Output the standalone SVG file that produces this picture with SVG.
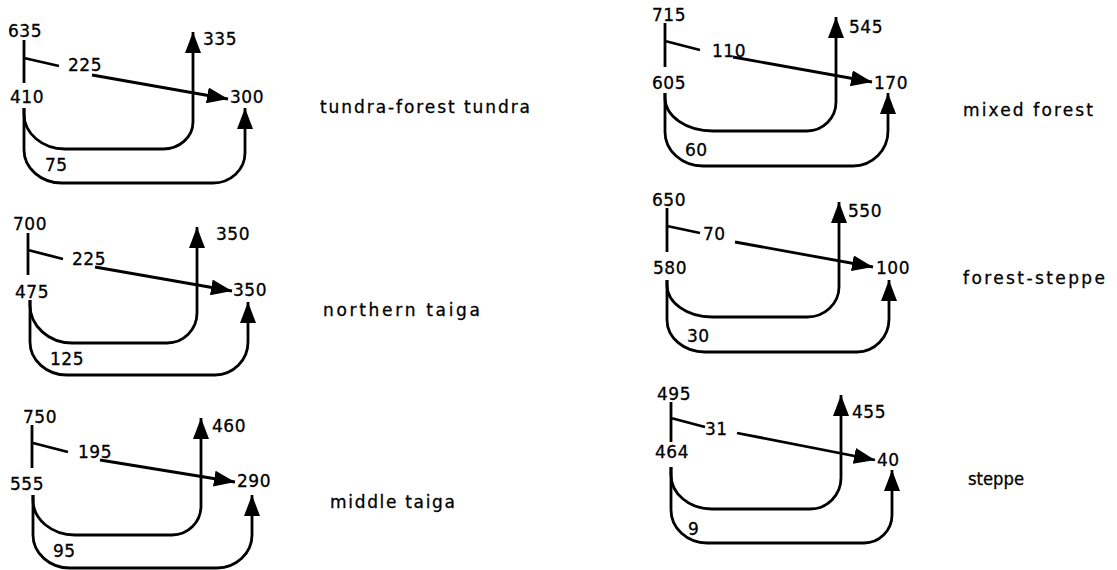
<svg xmlns="http://www.w3.org/2000/svg" width="1117" height="570" viewBox="0 0 1117 570">
<style>
.n{font-family:"DejaVu Sans","Liberation Sans",sans-serif;font-size:17px;fill:#000;letter-spacing:0.5px;stroke:#000;stroke-width:0.3}
.l{font-family:"DejaVu Sans","Liberation Sans",sans-serif;font-size:17px;fill:#000;stroke:#000;stroke-width:0.3}
.ln{fill:none;stroke:#000;stroke-width:2.8;stroke-linejoin:round}
.a{marker-end:url(#ah)}
</style>
<defs>
<marker id="ah" markerUnits="userSpaceOnUse" markerWidth="22" markerHeight="16" refX="21" refY="8" orient="auto">
<path d="M0,0 L21,8 L0,16 z" fill="#000"/>
</marker>
</defs>
<rect width="1117" height="570" fill="#fff"/>
<g id="connectors">
<path class="ln" d="M24,40 L24,83 M24,58 L59,66"/>
<path class="ln a" d="M92,75 L228,99"/>
<path class="ln a" d="M24,108 L24,114 A41,35 0 0 0 65,149 L163,149 A30,27 0 0 0 193,122 L193,32"/>
<path class="ln a" d="M24,108 L24,150 A38,33 0 0 0 62,183 L213,183 A32,30 0 0 0 245,153 L245,108"/>
<path class="ln" d="M28,233 L28,275 M28,250 L63,259"/>
<path class="ln a" d="M95,267 L232,291"/>
<path class="ln a" d="M30,300 L30,305 A42,38 0 0 0 72,343 L167,343 A30,30 0 0 0 197,313 L197,227"/>
<path class="ln a" d="M30,300 L30,342 A37,33 0 0 0 67,375 L215,375 A33,33 0 0 0 248,342 L248,302"/>
<path class="ln" d="M32,425 L32,468 M33,443 L68,452"/>
<path class="ln a" d="M100,460 L235,482"/>
<path class="ln a" d="M33,495 L33,500 A42,35 0 0 0 75,535 L172,535 A29,29 0 0 0 201,506 L201,418"/>
<path class="ln a" d="M33,495 L33,535 A37,33 0 0 0 70,568 L217,568 A35,33 0 0 0 252,535 L252,495"/>
<path class="ln" d="M665,23 L665,67 M665,41 L700,50"/>
<path class="ln a" d="M733,57 L872,82"/>
<path class="ln a" d="M665,93 L665,98 A48,33 0 0 0 713,131 L807,131 A29,29 0 0 0 836,102 L836,17"/>
<path class="ln a" d="M665,93 L665,132 A38,34 0 0 0 703,166 L853,166 A35,35 0 0 0 888,131 L888,93"/>
<path class="ln" d="M667,208 L667,252 M667,226 L700,233"/>
<path class="ln a" d="M735,242 L873,267"/>
<path class="ln a" d="M667,280 L667,285 A45,32 0 0 0 712,317 L807,317 A32,30 0 0 0 839,287 L839,202"/>
<path class="ln a" d="M667,280 L667,320 A38,32 0 0 0 705,352 L857,352 A32,33 0 0 0 889,319 L889,280"/>
<path class="ln" d="M671,402 L671,442 M671,418 L705,427"/>
<path class="ln a" d="M737,433 L875,460"/>
<path class="ln a" d="M671,467 L671,475 A41,34 0 0 0 712,509 L810,509 A31,31 0 0 0 841,478 L841,395"/>
<path class="ln a" d="M671,467 L671,510 A36,33 0 0 0 707,543 L864,543 A28,28 0 0 0 892,515 L892,470"/>
</g>
<g id="tundra-forest-tundra">
<text class="n" x="8" y="37">635</text>
<text class="n" x="68" y="71">225</text>
<text class="n" x="230" y="103">300</text>
<text class="n" x="10" y="103">410</text>
<text class="n" x="203" y="45">335</text>
<text class="n" x="45" y="171">75</text>
<text class="l" x="320" y="113" textLength="210" lengthAdjust="spacing">tundra-forest tundra</text>
</g>
<g id="northern-taiga">
<text class="n" x="13" y="230">700</text>
<text class="n" x="72" y="265">225</text>
<text class="n" x="233" y="296">350</text>
<text class="n" x="15" y="298">475</text>
<text class="n" x="216" y="240">350</text>
<text class="n" x="50" y="365">125</text>
<text class="l" x="323" y="316" textLength="157" lengthAdjust="spacing">northern taiga</text>
</g>
<g id="middle-taiga">
<text class="n" x="23" y="423">750</text>
<text class="n" x="78" y="458">195</text>
<text class="n" x="237" y="487">290</text>
<text class="n" x="10" y="490">555</text>
<text class="n" x="212" y="432">460</text>
<text class="n" x="53" y="557">95</text>
<text class="l" x="330" y="508" textLength="125" lengthAdjust="spacing">middle taiga</text>
</g>
<g id="mixed-forest">
<text class="n" x="652" y="21">715</text>
<text class="n" x="712" y="57">110</text>
<text class="n" x="874" y="89">170</text>
<text class="n" x="652" y="89">605</text>
<text class="n" x="849" y="33">545</text>
<text class="n" x="685" y="156">60</text>
<text class="l" x="963" y="116" textLength="130" lengthAdjust="spacing">mixed forest</text>
</g>
<g id="forest-steppe">
<text class="n" x="652" y="206">650</text>
<text class="n" x="703" y="240">70</text>
<text class="n" x="876" y="274">100</text>
<text class="n" x="653" y="274">580</text>
<text class="n" x="848" y="217">550</text>
<text class="n" x="687" y="342">30</text>
<text class="l" x="963" y="284" textLength="142" lengthAdjust="spacing">forest-steppe</text>
</g>
<g id="steppe">
<text class="n" x="657" y="400">495</text>
<text class="n" x="705" y="435">31</text>
<text class="n" x="877" y="466">40</text>
<text class="n" x="655" y="458">464</text>
<text class="n" x="852" y="418">455</text>
<text class="n" x="688" y="535">9</text>
<text class="l" x="968" y="485" textLength="56" lengthAdjust="spacingAndGlyphs">steppe</text>
</g>
</svg>
